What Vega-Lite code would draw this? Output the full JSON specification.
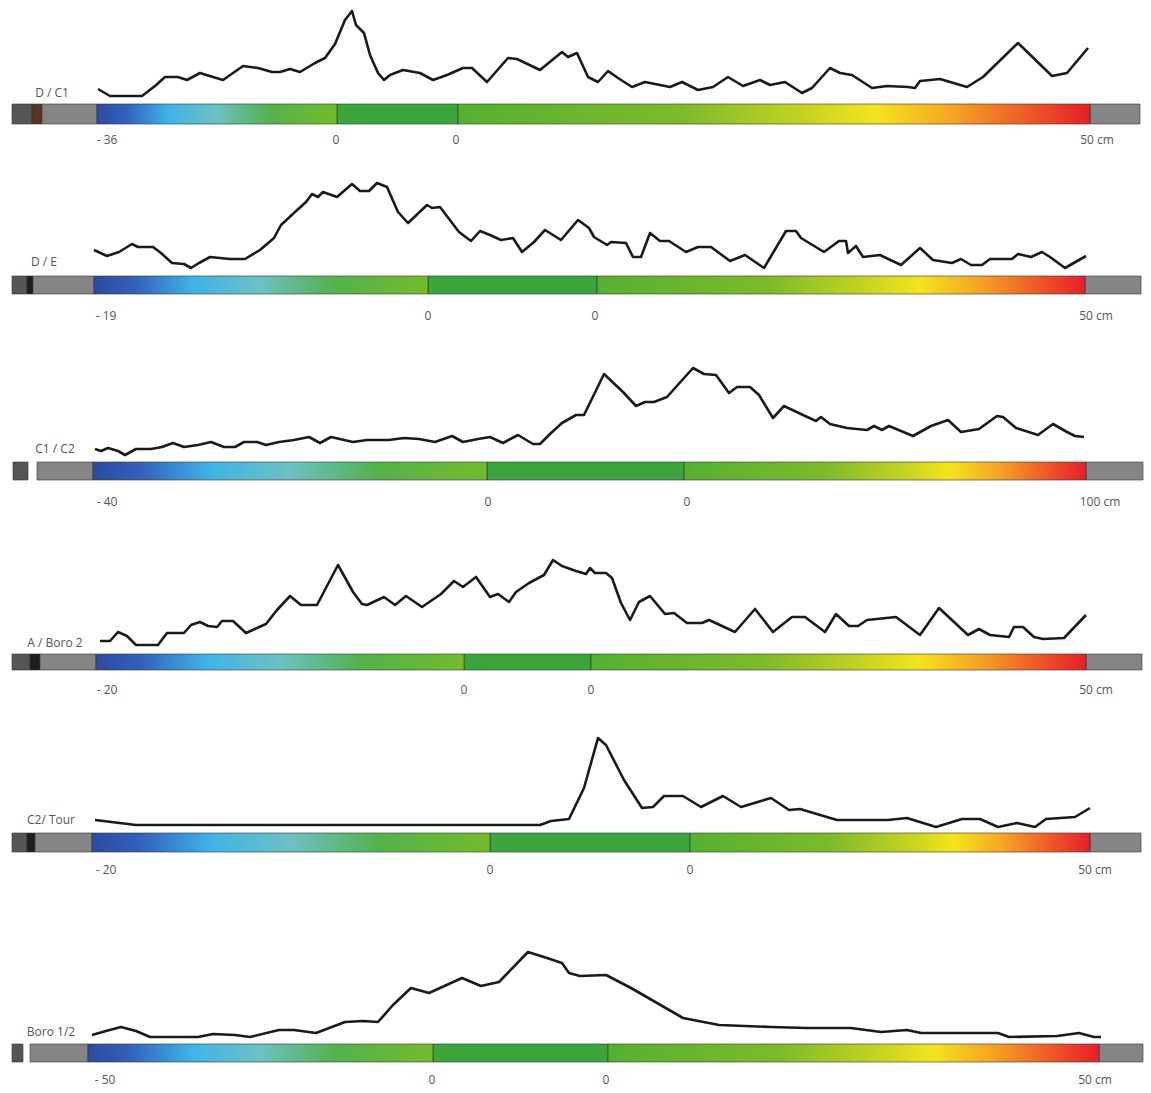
{
"$schema":"https://vega.github.io/schema/vega-lite/v6.json",
"background":"white","padding":0,"spacing":0,
"config":{"view":{"stroke":null},"text":{"font":"Open Sans","fontSize":12,"fill":"#555555","color":"#555555"},"line":{"color":"#1a1a1a","strokeWidth":2.6,"strokeJoin":"round"}},
"resolve":{"scale":{"y":"independent","x":"independent"}},
"datasets":{
"seg":[
{"p":1,"kind":"dark","x0":12,"x1":32},{"p":1,"kind":"brown","x0":32,"x1":42},{"p":1,"kind":"gray","x0":42,"x1":97},{"p":1,"kind":"neg","x0":97,"x1":337},{"p":1,"kind":"mid","x0":337,"x1":458},{"p":1,"kind":"pos","x0":458,"x1":1090},{"p":1,"kind":"gray","x0":1090,"x1":1140},
{"p":2,"kind":"dark","x0":12,"x1":27},{"p":2,"kind":"black","x0":27,"x1":33},{"p":2,"kind":"gray","x0":33,"x1":94},{"p":2,"kind":"neg","x0":94,"x1":428},{"p":2,"kind":"mid","x0":428,"x1":597},{"p":2,"kind":"pos","x0":597,"x1":1085},{"p":2,"kind":"gray","x0":1085,"x1":1141},
{"p":3,"kind":"dark","x0":13,"x1":28},{"p":3,"kind":"gray","x0":37,"x1":93},{"p":3,"kind":"neg","x0":93,"x1":487},{"p":3,"kind":"mid","x0":487,"x1":684},{"p":3,"kind":"pos","x0":684,"x1":1086},{"p":3,"kind":"gray","x0":1086,"x1":1143},
{"p":4,"kind":"dark","x0":12,"x1":30},{"p":4,"kind":"black","x0":30,"x1":40},{"p":4,"kind":"gray","x0":40,"x1":96},{"p":4,"kind":"neg","x0":96,"x1":464},{"p":4,"kind":"mid","x0":464,"x1":591},{"p":4,"kind":"pos","x0":591,"x1":1086},{"p":4,"kind":"gray","x0":1086,"x1":1142},
{"p":5,"kind":"dark","x0":12,"x1":27},{"p":5,"kind":"black","x0":27,"x1":35},{"p":5,"kind":"gray","x0":35,"x1":92},{"p":5,"kind":"neg","x0":92,"x1":490},{"p":5,"kind":"mid","x0":490,"x1":690},{"p":5,"kind":"pos","x0":690,"x1":1090},{"p":5,"kind":"gray","x0":1090,"x1":1141},
{"p":6,"kind":"dark","x0":12,"x1":23},{"p":6,"kind":"gray","x0":30,"x1":88},{"p":6,"kind":"neg","x0":88,"x1":433},{"p":6,"kind":"mid","x0":433,"x1":608},{"p":6,"kind":"pos","x0":608,"x1":1099},{"p":6,"kind":"gray","x0":1099,"x1":1143}
],
"lab":[
{"p":1,"pos":107,"t":"- 36"},{"p":1,"pos":336,"t":"0"},{"p":1,"pos":456,"t":"0"},{"p":1,"pos":1097,"t":"50 cm"},
{"p":2,"pos":106,"t":"- 19"},{"p":2,"pos":428,"t":"0"},{"p":2,"pos":595,"t":"0"},{"p":2,"pos":1096,"t":"50 cm"},
{"p":3,"pos":107,"t":"- 40"},{"p":3,"pos":488,"t":"0"},{"p":3,"pos":687,"t":"0"},{"p":3,"pos":1100,"t":"100 cm"},
{"p":4,"pos":107,"t":"- 20"},{"p":4,"pos":464,"t":"0"},{"p":4,"pos":591,"t":"0"},{"p":4,"pos":1096,"t":"50 cm"},
{"p":5,"pos":106,"t":"- 20"},{"p":5,"pos":490,"t":"0"},{"p":5,"pos":690,"t":"0"},{"p":5,"pos":1095,"t":"50 cm"},
{"p":6,"pos":105,"t":"- 50"},{"p":6,"pos":432,"t":"0"},{"p":6,"pos":606,"t":"0"},{"p":6,"pos":1095,"t":"50 cm"}
],
"names":[
{"p":1,"pos":52,"t":"D / C1"},{"p":2,"pos":44,"t":"D / E"},{"p":3,"pos":55,"t":"C1 / C2"},{"p":4,"pos":55,"t":"A / Boro 2"},{"p":5,"pos":51,"t":"C2/ Tour"},{"p":6,"pos":51,"t":"Boro 1/2"}
],
"prof":[
{"p":1,"pos":98,"v":15},{"p":1,"pos":110,"v":8},{"p":1,"pos":142,"v":8},{"p":1,"pos":155,"v":18},{"p":1,"pos":165,"v":27},{"p":1,"pos":178,"v":27},{"p":1,"pos":187,"v":24},{"p":1,"pos":200,"v":31},{"p":1,"pos":213,"v":27},{"p":1,"pos":223,"v":24},{"p":1,"pos":243,"v":38},{"p":1,"pos":258,"v":36},{"p":1,"pos":272,"v":32},{"p":1,"pos":280,"v":32},{"p":1,"pos":290,"v":35},{"p":1,"pos":300,"v":32},{"p":1,"pos":315,"v":41},{"p":1,"pos":325,"v":46},{"p":1,"pos":335,"v":60},{"p":1,"pos":345,"v":84},{"p":1,"pos":352,"v":93},{"p":1,"pos":356,"v":79},{"p":1,"pos":364,"v":71},{"p":1,"pos":370,"v":49},{"p":1,"pos":378,"v":31},{"p":1,"pos":384,"v":24},{"p":1,"pos":390,"v":29},{"p":1,"pos":403,"v":34},{"p":1,"pos":420,"v":31},{"p":1,"pos":433,"v":24},{"p":1,"pos":447,"v":29},{"p":1,"pos":463,"v":36},{"p":1,"pos":472,"v":36},{"p":1,"pos":487,"v":22},{"p":1,"pos":508,"v":46},{"p":1,"pos":517,"v":45},{"p":1,"pos":540,"v":34},{"p":1,"pos":562,"v":52},{"p":1,"pos":568,"v":47},{"p":1,"pos":577,"v":51},{"p":1,"pos":588,"v":27},{"p":1,"pos":598,"v":22},{"p":1,"pos":608,"v":33},{"p":1,"pos":618,"v":26},{"p":1,"pos":632,"v":17},{"p":1,"pos":645,"v":22},{"p":1,"pos":670,"v":17},{"p":1,"pos":682,"v":22},{"p":1,"pos":698,"v":14},{"p":1,"pos":713,"v":17},{"p":1,"pos":728,"v":27},{"p":1,"pos":743,"v":18},{"p":1,"pos":760,"v":24},{"p":1,"pos":770,"v":19},{"p":1,"pos":785,"v":22},{"p":1,"pos":802,"v":11},{"p":1,"pos":812,"v":16},{"p":1,"pos":830,"v":36},{"p":1,"pos":840,"v":31},{"p":1,"pos":852,"v":29},{"p":1,"pos":872,"v":16},{"p":1,"pos":887,"v":18},{"p":1,"pos":908,"v":17},{"p":1,"pos":915,"v":16},{"p":1,"pos":920,"v":23},{"p":1,"pos":940,"v":25},{"p":1,"pos":967,"v":17},{"p":1,"pos":983,"v":27},{"p":1,"pos":1018,"v":61},{"p":1,"pos":1052,"v":28},{"p":1,"pos":1067,"v":31},{"p":1,"pos":1088,"v":56},
{"p":2,"pos":94,"v":26},{"p":2,"pos":107,"v":20},{"p":2,"pos":119,"v":24},{"p":2,"pos":132,"v":32},{"p":2,"pos":138,"v":29},{"p":2,"pos":153,"v":29},{"p":2,"pos":161,"v":23},{"p":2,"pos":172,"v":13},{"p":2,"pos":184,"v":12},{"p":2,"pos":191,"v":8},{"p":2,"pos":199,"v":13},{"p":2,"pos":210,"v":19},{"p":2,"pos":230,"v":17},{"p":2,"pos":245,"v":17},{"p":2,"pos":260,"v":26},{"p":2,"pos":274,"v":38},{"p":2,"pos":281,"v":51},{"p":2,"pos":295,"v":64},{"p":2,"pos":306,"v":74},{"p":2,"pos":312,"v":82},{"p":2,"pos":318,"v":79},{"p":2,"pos":323,"v":84},{"p":2,"pos":337,"v":79},{"p":2,"pos":352,"v":92},{"p":2,"pos":360,"v":85},{"p":2,"pos":369,"v":85},{"p":2,"pos":377,"v":93},{"p":2,"pos":387,"v":89},{"p":2,"pos":398,"v":64},{"p":2,"pos":408,"v":53},{"p":2,"pos":427,"v":71},{"p":2,"pos":432,"v":68},{"p":2,"pos":440,"v":69},{"p":2,"pos":459,"v":44},{"p":2,"pos":471,"v":35},{"p":2,"pos":480,"v":45},{"p":2,"pos":490,"v":41},{"p":2,"pos":501,"v":36},{"p":2,"pos":513,"v":38},{"p":2,"pos":522,"v":24},{"p":2,"pos":534,"v":34},{"p":2,"pos":545,"v":46},{"p":2,"pos":561,"v":36},{"p":2,"pos":578,"v":56},{"p":2,"pos":589,"v":48},{"p":2,"pos":594,"v":39},{"p":2,"pos":607,"v":31},{"p":2,"pos":611,"v":34},{"p":2,"pos":626,"v":33},{"p":2,"pos":633,"v":19},{"p":2,"pos":641,"v":19},{"p":2,"pos":650,"v":43},{"p":2,"pos":660,"v":35},{"p":2,"pos":669,"v":35},{"p":2,"pos":686,"v":24},{"p":2,"pos":698,"v":29},{"p":2,"pos":711,"v":29},{"p":2,"pos":730,"v":15},{"p":2,"pos":745,"v":21},{"p":2,"pos":764,"v":8},{"p":2,"pos":786,"v":45},{"p":2,"pos":796,"v":45},{"p":2,"pos":801,"v":38},{"p":2,"pos":824,"v":24},{"p":2,"pos":839,"v":35},{"p":2,"pos":846,"v":35},{"p":2,"pos":848,"v":23},{"p":2,"pos":856,"v":30},{"p":2,"pos":863,"v":19},{"p":2,"pos":880,"v":21},{"p":2,"pos":901,"v":11},{"p":2,"pos":920,"v":28},{"p":2,"pos":933,"v":16},{"p":2,"pos":952,"v":13},{"p":2,"pos":961,"v":17},{"p":2,"pos":971,"v":11},{"p":2,"pos":982,"v":11},{"p":2,"pos":990,"v":17},{"p":2,"pos":1012,"v":17},{"p":2,"pos":1018,"v":22},{"p":2,"pos":1031,"v":19},{"p":2,"pos":1042,"v":24},{"p":2,"pos":1050,"v":19},{"p":2,"pos":1065,"v":8},{"p":2,"pos":1086,"v":20},
{"p":3,"pos":95,"v":13},{"p":3,"pos":101,"v":11},{"p":3,"pos":108,"v":14},{"p":3,"pos":118,"v":11},{"p":3,"pos":125,"v":7},{"p":3,"pos":136,"v":13},{"p":3,"pos":151,"v":13},{"p":3,"pos":162,"v":15},{"p":3,"pos":173,"v":19},{"p":3,"pos":184,"v":15},{"p":3,"pos":198,"v":17},{"p":3,"pos":211,"v":20},{"p":3,"pos":224,"v":15},{"p":3,"pos":235,"v":15},{"p":3,"pos":244,"v":20},{"p":3,"pos":257,"v":20},{"p":3,"pos":266,"v":17},{"p":3,"pos":279,"v":20},{"p":3,"pos":294,"v":22},{"p":3,"pos":309,"v":25},{"p":3,"pos":320,"v":19},{"p":3,"pos":331,"v":25},{"p":3,"pos":353,"v":20},{"p":3,"pos":367,"v":22},{"p":3,"pos":389,"v":22},{"p":3,"pos":404,"v":24},{"p":3,"pos":419,"v":23},{"p":3,"pos":435,"v":20},{"p":3,"pos":452,"v":26},{"p":3,"pos":463,"v":20},{"p":3,"pos":478,"v":23},{"p":3,"pos":490,"v":25},{"p":3,"pos":503,"v":19},{"p":3,"pos":518,"v":27},{"p":3,"pos":533,"v":18},{"p":3,"pos":540,"v":18},{"p":3,"pos":551,"v":29},{"p":3,"pos":562,"v":39},{"p":3,"pos":576,"v":47},{"p":3,"pos":584,"v":47},{"p":3,"pos":604,"v":88},{"p":3,"pos":623,"v":70},{"p":3,"pos":636,"v":56},{"p":3,"pos":645,"v":60},{"p":3,"pos":654,"v":60},{"p":3,"pos":667,"v":65},{"p":3,"pos":693,"v":94},{"p":3,"pos":704,"v":88},{"p":3,"pos":716,"v":87},{"p":3,"pos":729,"v":69},{"p":3,"pos":737,"v":75},{"p":3,"pos":750,"v":75},{"p":3,"pos":759,"v":67},{"p":3,"pos":773,"v":44},{"p":3,"pos":784,"v":56},{"p":3,"pos":803,"v":47},{"p":3,"pos":816,"v":41},{"p":3,"pos":821,"v":45},{"p":3,"pos":830,"v":38},{"p":3,"pos":847,"v":34},{"p":3,"pos":867,"v":32},{"p":3,"pos":874,"v":36},{"p":3,"pos":882,"v":32},{"p":3,"pos":889,"v":36},{"p":3,"pos":913,"v":26},{"p":3,"pos":931,"v":36},{"p":3,"pos":948,"v":42},{"p":3,"pos":961,"v":30},{"p":3,"pos":979,"v":33},{"p":3,"pos":997,"v":46},{"p":3,"pos":1003,"v":45},{"p":3,"pos":1016,"v":34},{"p":3,"pos":1038,"v":27},{"p":3,"pos":1053,"v":38},{"p":3,"pos":1067,"v":30},{"p":3,"pos":1075,"v":26},{"p":3,"pos":1084,"v":25},
{"p":4,"pos":100,"v":13},{"p":4,"pos":110,"v":13},{"p":4,"pos":118,"v":22},{"p":4,"pos":127,"v":18},{"p":4,"pos":136,"v":9},{"p":4,"pos":158,"v":9},{"p":4,"pos":167,"v":21},{"p":4,"pos":184,"v":21},{"p":4,"pos":191,"v":29},{"p":4,"pos":200,"v":32},{"p":4,"pos":208,"v":28},{"p":4,"pos":217,"v":27},{"p":4,"pos":222,"v":33},{"p":4,"pos":233,"v":33},{"p":4,"pos":246,"v":21},{"p":4,"pos":257,"v":26},{"p":4,"pos":266,"v":30},{"p":4,"pos":277,"v":44},{"p":4,"pos":290,"v":58},{"p":4,"pos":301,"v":49},{"p":4,"pos":317,"v":49},{"p":4,"pos":338,"v":89},{"p":4,"pos":353,"v":62},{"p":4,"pos":362,"v":50},{"p":4,"pos":367,"v":49},{"p":4,"pos":384,"v":57},{"p":4,"pos":395,"v":49},{"p":4,"pos":406,"v":58},{"p":4,"pos":422,"v":47},{"p":4,"pos":441,"v":60},{"p":4,"pos":454,"v":73},{"p":4,"pos":463,"v":67},{"p":4,"pos":476,"v":77},{"p":4,"pos":490,"v":57},{"p":4,"pos":498,"v":60},{"p":4,"pos":509,"v":52},{"p":4,"pos":516,"v":62},{"p":4,"pos":529,"v":71},{"p":4,"pos":544,"v":79},{"p":4,"pos":553,"v":94},{"p":4,"pos":562,"v":88},{"p":4,"pos":576,"v":83},{"p":4,"pos":586,"v":80},{"p":4,"pos":590,"v":86},{"p":4,"pos":595,"v":81},{"p":4,"pos":606,"v":81},{"p":4,"pos":612,"v":76},{"p":4,"pos":621,"v":51},{"p":4,"pos":630,"v":34},{"p":4,"pos":639,"v":52},{"p":4,"pos":650,"v":58},{"p":4,"pos":665,"v":40},{"p":4,"pos":674,"v":41},{"p":4,"pos":687,"v":31},{"p":4,"pos":702,"v":31},{"p":4,"pos":709,"v":34},{"p":4,"pos":735,"v":22},{"p":4,"pos":755,"v":45},{"p":4,"pos":773,"v":22},{"p":4,"pos":792,"v":37},{"p":4,"pos":805,"v":37},{"p":4,"pos":825,"v":22},{"p":4,"pos":836,"v":40},{"p":4,"pos":849,"v":28},{"p":4,"pos":858,"v":28},{"p":4,"pos":867,"v":34},{"p":4,"pos":896,"v":37},{"p":4,"pos":920,"v":19},{"p":4,"pos":939,"v":46},{"p":4,"pos":968,"v":19},{"p":4,"pos":979,"v":25},{"p":4,"pos":990,"v":19},{"p":4,"pos":1009,"v":17},{"p":4,"pos":1014,"v":27},{"p":4,"pos":1023,"v":27},{"p":4,"pos":1034,"v":17},{"p":4,"pos":1043,"v":15},{"p":4,"pos":1064,"v":16},{"p":4,"pos":1086,"v":39},
{"p":5,"pos":95,"v":13},{"p":5,"pos":136,"v":8},{"p":5,"pos":220,"v":8},{"p":5,"pos":540,"v":8},{"p":5,"pos":551,"v":12},{"p":5,"pos":569,"v":14},{"p":5,"pos":584,"v":45},{"p":5,"pos":598,"v":95},{"p":5,"pos":606,"v":88},{"p":5,"pos":624,"v":53},{"p":5,"pos":642,"v":25},{"p":5,"pos":653,"v":26},{"p":5,"pos":664,"v":37},{"p":5,"pos":683,"v":37},{"p":5,"pos":701,"v":26},{"p":5,"pos":723,"v":37},{"p":5,"pos":741,"v":26},{"p":5,"pos":771,"v":35},{"p":5,"pos":789,"v":23},{"p":5,"pos":800,"v":24},{"p":5,"pos":837,"v":13},{"p":5,"pos":888,"v":13},{"p":5,"pos":907,"v":15},{"p":5,"pos":936,"v":6},{"p":5,"pos":962,"v":14},{"p":5,"pos":980,"v":14},{"p":5,"pos":998,"v":6},{"p":5,"pos":1017,"v":10},{"p":5,"pos":1035,"v":6},{"p":5,"pos":1046,"v":14},{"p":5,"pos":1075,"v":16},{"p":5,"pos":1090,"v":25},
{"p":6,"pos":92,"v":9},{"p":6,"pos":106,"v":13},{"p":6,"pos":121,"v":17},{"p":6,"pos":136,"v":13},{"p":6,"pos":150,"v":7},{"p":6,"pos":176,"v":7},{"p":6,"pos":198,"v":7},{"p":6,"pos":213,"v":10},{"p":6,"pos":235,"v":9},{"p":6,"pos":250,"v":7},{"p":6,"pos":279,"v":14},{"p":6,"pos":294,"v":14},{"p":6,"pos":316,"v":11},{"p":6,"pos":345,"v":22},{"p":6,"pos":363,"v":23},{"p":6,"pos":378,"v":22},{"p":6,"pos":393,"v":39},{"p":6,"pos":411,"v":56},{"p":6,"pos":429,"v":51},{"p":6,"pos":462,"v":66},{"p":6,"pos":481,"v":58},{"p":6,"pos":499,"v":62},{"p":6,"pos":528,"v":92},{"p":6,"pos":547,"v":86},{"p":6,"pos":562,"v":81},{"p":6,"pos":569,"v":71},{"p":6,"pos":580,"v":68},{"p":6,"pos":606,"v":69},{"p":6,"pos":631,"v":56},{"p":6,"pos":683,"v":26},{"p":6,"pos":719,"v":19},{"p":6,"pos":771,"v":17},{"p":6,"pos":807,"v":16},{"p":6,"pos":851,"v":16},{"p":6,"pos":881,"v":12},{"p":6,"pos":907,"v":14},{"p":6,"pos":921,"v":11},{"p":6,"pos":954,"v":11},{"p":6,"pos":998,"v":11},{"p":6,"pos":1009,"v":7},{"p":6,"pos":1057,"v":8},{"p":6,"pos":1079,"v":11},{"p":6,"pos":1094,"v":7},{"p":6,"pos":1101,"v":7}
]
},
"vconcat":[
{"width":1151,"height":150,"layer":[
{"data":{"name":"seg"},"transform":[{"filter":"datum.p==1 && datum.kind!='neg' && datum.kind!='pos'"}],"mark":{"type":"rect","stroke":"#333333","strokeWidth":0.6},"encoding":{"x":{"field":"x0","type":"quantitative","scale":{"domain":[0,1151],"nice":false,"zero":false},"axis":null},"x2":{"field":"x1"},"y":{"datum":0,"type":"quantitative","scale":{"domain":[-46,104],"nice":false,"zero":false},"axis":null},"y2":{"datum":-20},"color":{"field":"kind","type":"nominal","scale":{"domain":["dark","black","brown","gray","mid"],"range":["#555555","#1e1e1e","#5a3420","#858585","#3aa63c"]},"legend":null}}},
{"data":{"name":"seg"},"transform":[{"filter":"datum.p==1 && datum.kind=='neg'"}],"mark":{"type":"rect","stroke":"#333333","strokeWidth":0.6,"fill":{"gradient":"linear","x1":0,"y1":0,"x2":1,"y2":0,"stops":[{"offset":0,"color":"#2c4aa0"},{"offset":0.12,"color":"#3260bd"},{"offset":0.3,"color":"#3fb4e6"},{"offset":0.5,"color":"#6cc1c4"},{"offset":0.72,"color":"#53b24c"},{"offset":1,"color":"#74bb2a"}]}},"encoding":{"x":{"field":"x0","type":"quantitative"},"x2":{"field":"x1"},"y":{"datum":0,"type":"quantitative"},"y2":{"datum":-20}}},
{"data":{"name":"seg"},"transform":[{"filter":"datum.p==1 && datum.kind=='pos'"}],"mark":{"type":"rect","stroke":"#333333","strokeWidth":0.6,"fill":{"gradient":"linear","x1":0,"y1":0,"x2":1,"y2":0,"stops":[{"offset":0,"color":"#55b030"},{"offset":0.35,"color":"#7cbb2a"},{"offset":0.55,"color":"#c6d320"},{"offset":0.66,"color":"#f4e41d"},{"offset":0.78,"color":"#f6a623"},{"offset":0.9,"color":"#ee5a27"},{"offset":1,"color":"#e61e2a"}]}},"encoding":{"x":{"field":"x0","type":"quantitative"},"x2":{"field":"x1"},"y":{"datum":0,"type":"quantitative"},"y2":{"datum":-20}}},
{"data":{"name":"prof"},"transform":[{"filter":"datum.p==1"}],"mark":{"type":"line"},"encoding":{"x":{"field":"pos","type":"quantitative"},"y":{"field":"v","type":"quantitative"}}},
{"data":{"name":"lab"},"transform":[{"filter":"datum.p==1"}],"mark":{"type":"text","baseline":"middle","fill":"#555555"},"encoding":{"x":{"field":"pos","type":"quantitative"},"y":{"datum":-36,"type":"quantitative"},"text":{"field":"t"}}},
{"data":{"name":"names"},"transform":[{"filter":"datum.p==1"}],"mark":{"type":"text","baseline":"middle","fill":"#555555"},"encoding":{"x":{"field":"pos","type":"quantitative"},"y":{"datum":11,"type":"quantitative"},"text":{"field":"t"}}}
]},
{"width":1151,"height":180,"layer":[
{"data":{"name":"seg"},"transform":[{"filter":"datum.p==2 && datum.kind!='neg' && datum.kind!='pos'"}],"mark":{"type":"rect","stroke":"#333333","strokeWidth":0.6},"encoding":{"x":{"field":"x0","type":"quantitative","scale":{"domain":[0,1151],"nice":false,"zero":false},"axis":null},"x2":{"field":"x1"},"y":{"datum":0,"type":"quantitative","scale":{"domain":[-54,126],"nice":false,"zero":false},"axis":null},"y2":{"datum":-18},"color":{"field":"kind","type":"nominal","scale":{"domain":["dark","black","brown","gray","mid"],"range":["#555555","#1e1e1e","#5a3420","#858585","#3aa63c"]},"legend":null}}},
{"data":{"name":"seg"},"transform":[{"filter":"datum.p==2 && datum.kind=='neg'"}],"mark":{"type":"rect","stroke":"#333333","strokeWidth":0.6,"fill":{"gradient":"linear","x1":0,"y1":0,"x2":1,"y2":0,"stops":[{"offset":0,"color":"#2c4aa0"},{"offset":0.12,"color":"#3260bd"},{"offset":0.3,"color":"#3fb4e6"},{"offset":0.5,"color":"#6cc1c4"},{"offset":0.72,"color":"#53b24c"},{"offset":1,"color":"#74bb2a"}]}},"encoding":{"x":{"field":"x0","type":"quantitative"},"x2":{"field":"x1"},"y":{"datum":0,"type":"quantitative"},"y2":{"datum":-18}}},
{"data":{"name":"seg"},"transform":[{"filter":"datum.p==2 && datum.kind=='pos'"}],"mark":{"type":"rect","stroke":"#333333","strokeWidth":0.6,"fill":{"gradient":"linear","x1":0,"y1":0,"x2":1,"y2":0,"stops":[{"offset":0,"color":"#55b030"},{"offset":0.35,"color":"#7cbb2a"},{"offset":0.55,"color":"#c6d320"},{"offset":0.66,"color":"#f4e41d"},{"offset":0.78,"color":"#f6a623"},{"offset":0.9,"color":"#ee5a27"},{"offset":1,"color":"#e61e2a"}]}},"encoding":{"x":{"field":"x0","type":"quantitative"},"x2":{"field":"x1"},"y":{"datum":0,"type":"quantitative"},"y2":{"datum":-18}}},
{"data":{"name":"prof"},"transform":[{"filter":"datum.p==2"}],"mark":{"type":"line"},"encoding":{"x":{"field":"pos","type":"quantitative"},"y":{"field":"v","type":"quantitative"}}},
{"data":{"name":"lab"},"transform":[{"filter":"datum.p==2"}],"mark":{"type":"text","baseline":"middle","fill":"#555555"},"encoding":{"x":{"field":"pos","type":"quantitative"},"y":{"datum":-40,"type":"quantitative"},"text":{"field":"t"}}},
{"data":{"name":"names"},"transform":[{"filter":"datum.p==2"}],"mark":{"type":"text","baseline":"middle","fill":"#555555"},"encoding":{"x":{"field":"pos","type":"quantitative"},"y":{"datum":14,"type":"quantitative"},"text":{"field":"t"}}}
]},
{"width":1151,"height":190,"layer":[
{"data":{"name":"seg"},"transform":[{"filter":"datum.p==3 && datum.kind!='neg' && datum.kind!='pos'"}],"mark":{"type":"rect","stroke":"#333333","strokeWidth":0.6},"encoding":{"x":{"field":"x0","type":"quantitative","scale":{"domain":[0,1151],"nice":false,"zero":false},"axis":null},"x2":{"field":"x1"},"y":{"datum":0,"type":"quantitative","scale":{"domain":[-58,132],"nice":false,"zero":false},"axis":null},"y2":{"datum":-18},"color":{"field":"kind","type":"nominal","scale":{"domain":["dark","black","brown","gray","mid"],"range":["#555555","#1e1e1e","#5a3420","#858585","#3aa63c"]},"legend":null}}},
{"data":{"name":"seg"},"transform":[{"filter":"datum.p==3 && datum.kind=='neg'"}],"mark":{"type":"rect","stroke":"#333333","strokeWidth":0.6,"fill":{"gradient":"linear","x1":0,"y1":0,"x2":1,"y2":0,"stops":[{"offset":0,"color":"#2c4aa0"},{"offset":0.12,"color":"#3260bd"},{"offset":0.3,"color":"#3fb4e6"},{"offset":0.5,"color":"#6cc1c4"},{"offset":0.72,"color":"#53b24c"},{"offset":1,"color":"#74bb2a"}]}},"encoding":{"x":{"field":"x0","type":"quantitative"},"x2":{"field":"x1"},"y":{"datum":0,"type":"quantitative"},"y2":{"datum":-18}}},
{"data":{"name":"seg"},"transform":[{"filter":"datum.p==3 && datum.kind=='pos'"}],"mark":{"type":"rect","stroke":"#333333","strokeWidth":0.6,"fill":{"gradient":"linear","x1":0,"y1":0,"x2":1,"y2":0,"stops":[{"offset":0,"color":"#55b030"},{"offset":0.35,"color":"#7cbb2a"},{"offset":0.55,"color":"#c6d320"},{"offset":0.66,"color":"#f4e41d"},{"offset":0.78,"color":"#f6a623"},{"offset":0.9,"color":"#ee5a27"},{"offset":1,"color":"#e61e2a"}]}},"encoding":{"x":{"field":"x0","type":"quantitative"},"x2":{"field":"x1"},"y":{"datum":0,"type":"quantitative"},"y2":{"datum":-18}}},
{"data":{"name":"prof"},"transform":[{"filter":"datum.p==3"}],"mark":{"type":"line"},"encoding":{"x":{"field":"pos","type":"quantitative"},"y":{"field":"v","type":"quantitative"}}},
{"data":{"name":"lab"},"transform":[{"filter":"datum.p==3"}],"mark":{"type":"text","baseline":"middle","fill":"#555555"},"encoding":{"x":{"field":"pos","type":"quantitative"},"y":{"datum":-40,"type":"quantitative"},"text":{"field":"t"}}},
{"data":{"name":"names"},"transform":[{"filter":"datum.p==3"}],"mark":{"type":"text","baseline":"middle","fill":"#555555"},"encoding":{"x":{"field":"pos","type":"quantitative"},"y":{"datum":13,"type":"quantitative"},"text":{"field":"t"}}}
]},
{"width":1151,"height":185,"layer":[
{"data":{"name":"seg"},"transform":[{"filter":"datum.p==4 && datum.kind!='neg' && datum.kind!='pos'"}],"mark":{"type":"rect","stroke":"#333333","strokeWidth":0.6},"encoding":{"x":{"field":"x0","type":"quantitative","scale":{"domain":[0,1151],"nice":false,"zero":false},"axis":null},"x2":{"field":"x1"},"y":{"datum":0,"type":"quantitative","scale":{"domain":[-51,134],"nice":false,"zero":false},"axis":null},"y2":{"datum":-16},"color":{"field":"kind","type":"nominal","scale":{"domain":["dark","black","brown","gray","mid"],"range":["#555555","#1e1e1e","#5a3420","#858585","#3aa63c"]},"legend":null}}},
{"data":{"name":"seg"},"transform":[{"filter":"datum.p==4 && datum.kind=='neg'"}],"mark":{"type":"rect","stroke":"#333333","strokeWidth":0.6,"fill":{"gradient":"linear","x1":0,"y1":0,"x2":1,"y2":0,"stops":[{"offset":0,"color":"#2c4aa0"},{"offset":0.12,"color":"#3260bd"},{"offset":0.3,"color":"#3fb4e6"},{"offset":0.5,"color":"#6cc1c4"},{"offset":0.72,"color":"#53b24c"},{"offset":1,"color":"#74bb2a"}]}},"encoding":{"x":{"field":"x0","type":"quantitative"},"x2":{"field":"x1"},"y":{"datum":0,"type":"quantitative"},"y2":{"datum":-16}}},
{"data":{"name":"seg"},"transform":[{"filter":"datum.p==4 && datum.kind=='pos'"}],"mark":{"type":"rect","stroke":"#333333","strokeWidth":0.6,"fill":{"gradient":"linear","x1":0,"y1":0,"x2":1,"y2":0,"stops":[{"offset":0,"color":"#55b030"},{"offset":0.35,"color":"#7cbb2a"},{"offset":0.55,"color":"#c6d320"},{"offset":0.66,"color":"#f4e41d"},{"offset":0.78,"color":"#f6a623"},{"offset":0.9,"color":"#ee5a27"},{"offset":1,"color":"#e61e2a"}]}},"encoding":{"x":{"field":"x0","type":"quantitative"},"x2":{"field":"x1"},"y":{"datum":0,"type":"quantitative"},"y2":{"datum":-16}}},
{"data":{"name":"prof"},"transform":[{"filter":"datum.p==4"}],"mark":{"type":"line"},"encoding":{"x":{"field":"pos","type":"quantitative"},"y":{"field":"v","type":"quantitative"}}},
{"data":{"name":"lab"},"transform":[{"filter":"datum.p==4"}],"mark":{"type":"text","baseline":"middle","fill":"#555555"},"encoding":{"x":{"field":"pos","type":"quantitative"},"y":{"datum":-36,"type":"quantitative"},"text":{"field":"t"}}},
{"data":{"name":"names"},"transform":[{"filter":"datum.p==4"}],"mark":{"type":"text","baseline":"middle","fill":"#555555"},"encoding":{"x":{"field":"pos","type":"quantitative"},"y":{"datum":11,"type":"quantitative"},"text":{"field":"t"}}}
]},
{"width":1151,"height":183,"layer":[
{"data":{"name":"seg"},"transform":[{"filter":"datum.p==5 && datum.kind!='neg' && datum.kind!='pos'"}],"mark":{"type":"rect","stroke":"#333333","strokeWidth":0.6},"encoding":{"x":{"field":"x0","type":"quantitative","scale":{"domain":[0,1151],"nice":false,"zero":false},"axis":null},"x2":{"field":"x1"},"y":{"datum":0,"type":"quantitative","scale":{"domain":[-55,128],"nice":false,"zero":false},"axis":null},"y2":{"datum":-19},"color":{"field":"kind","type":"nominal","scale":{"domain":["dark","black","brown","gray","mid"],"range":["#555555","#1e1e1e","#5a3420","#858585","#3aa63c"]},"legend":null}}},
{"data":{"name":"seg"},"transform":[{"filter":"datum.p==5 && datum.kind=='neg'"}],"mark":{"type":"rect","stroke":"#333333","strokeWidth":0.6,"fill":{"gradient":"linear","x1":0,"y1":0,"x2":1,"y2":0,"stops":[{"offset":0,"color":"#2c4aa0"},{"offset":0.12,"color":"#3260bd"},{"offset":0.3,"color":"#3fb4e6"},{"offset":0.5,"color":"#6cc1c4"},{"offset":0.72,"color":"#53b24c"},{"offset":1,"color":"#74bb2a"}]}},"encoding":{"x":{"field":"x0","type":"quantitative"},"x2":{"field":"x1"},"y":{"datum":0,"type":"quantitative"},"y2":{"datum":-19}}},
{"data":{"name":"seg"},"transform":[{"filter":"datum.p==5 && datum.kind=='pos'"}],"mark":{"type":"rect","stroke":"#333333","strokeWidth":0.6,"fill":{"gradient":"linear","x1":0,"y1":0,"x2":1,"y2":0,"stops":[{"offset":0,"color":"#55b030"},{"offset":0.35,"color":"#7cbb2a"},{"offset":0.55,"color":"#c6d320"},{"offset":0.66,"color":"#f4e41d"},{"offset":0.78,"color":"#f6a623"},{"offset":0.9,"color":"#ee5a27"},{"offset":1,"color":"#e61e2a"}]}},"encoding":{"x":{"field":"x0","type":"quantitative"},"x2":{"field":"x1"},"y":{"datum":0,"type":"quantitative"},"y2":{"datum":-19}}},
{"data":{"name":"prof"},"transform":[{"filter":"datum.p==5"}],"mark":{"type":"line"},"encoding":{"x":{"field":"pos","type":"quantitative"},"y":{"field":"v","type":"quantitative"}}},
{"data":{"name":"lab"},"transform":[{"filter":"datum.p==5"}],"mark":{"type":"text","baseline":"middle","fill":"#555555"},"encoding":{"x":{"field":"pos","type":"quantitative"},"y":{"datum":-37,"type":"quantitative"},"text":{"field":"t"}}},
{"data":{"name":"names"},"transform":[{"filter":"datum.p==5"}],"mark":{"type":"text","baseline":"middle","fill":"#555555"},"encoding":{"x":{"field":"pos","type":"quantitative"},"y":{"datum":13,"type":"quantitative"},"text":{"field":"t"}}}
]},
{"width":1151,"height":205,"layer":[
{"data":{"name":"seg"},"transform":[{"filter":"datum.p==6 && datum.kind!='neg' && datum.kind!='pos'"}],"mark":{"type":"rect","stroke":"#333333","strokeWidth":0.6},"encoding":{"x":{"field":"x0","type":"quantitative","scale":{"domain":[0,1151],"nice":false,"zero":false},"axis":null},"x2":{"field":"x1"},"y":{"datum":0,"type":"quantitative","scale":{"domain":[-49,156],"nice":false,"zero":false},"axis":null},"y2":{"datum":-18},"color":{"field":"kind","type":"nominal","scale":{"domain":["dark","black","brown","gray","mid"],"range":["#555555","#1e1e1e","#5a3420","#858585","#3aa63c"]},"legend":null}}},
{"data":{"name":"seg"},"transform":[{"filter":"datum.p==6 && datum.kind=='neg'"}],"mark":{"type":"rect","stroke":"#333333","strokeWidth":0.6,"fill":{"gradient":"linear","x1":0,"y1":0,"x2":1,"y2":0,"stops":[{"offset":0,"color":"#2c4aa0"},{"offset":0.12,"color":"#3260bd"},{"offset":0.3,"color":"#3fb4e6"},{"offset":0.5,"color":"#6cc1c4"},{"offset":0.72,"color":"#53b24c"},{"offset":1,"color":"#74bb2a"}]}},"encoding":{"x":{"field":"x0","type":"quantitative"},"x2":{"field":"x1"},"y":{"datum":0,"type":"quantitative"},"y2":{"datum":-18}}},
{"data":{"name":"seg"},"transform":[{"filter":"datum.p==6 && datum.kind=='pos'"}],"mark":{"type":"rect","stroke":"#333333","strokeWidth":0.6,"fill":{"gradient":"linear","x1":0,"y1":0,"x2":1,"y2":0,"stops":[{"offset":0,"color":"#55b030"},{"offset":0.35,"color":"#7cbb2a"},{"offset":0.55,"color":"#c6d320"},{"offset":0.66,"color":"#f4e41d"},{"offset":0.78,"color":"#f6a623"},{"offset":0.9,"color":"#ee5a27"},{"offset":1,"color":"#e61e2a"}]}},"encoding":{"x":{"field":"x0","type":"quantitative"},"x2":{"field":"x1"},"y":{"datum":0,"type":"quantitative"},"y2":{"datum":-18}}},
{"data":{"name":"prof"},"transform":[{"filter":"datum.p==6"}],"mark":{"type":"line"},"encoding":{"x":{"field":"pos","type":"quantitative"},"y":{"field":"v","type":"quantitative"}}},
{"data":{"name":"lab"},"transform":[{"filter":"datum.p==6"}],"mark":{"type":"text","baseline":"middle","fill":"#555555"},"encoding":{"x":{"field":"pos","type":"quantitative"},"y":{"datum":-36,"type":"quantitative"},"text":{"field":"t"}}},
{"data":{"name":"names"},"transform":[{"filter":"datum.p==6"}],"mark":{"type":"text","baseline":"middle","fill":"#555555"},"encoding":{"x":{"field":"pos","type":"quantitative"},"y":{"datum":12,"type":"quantitative"},"text":{"field":"t"}}}
]}
]
}
